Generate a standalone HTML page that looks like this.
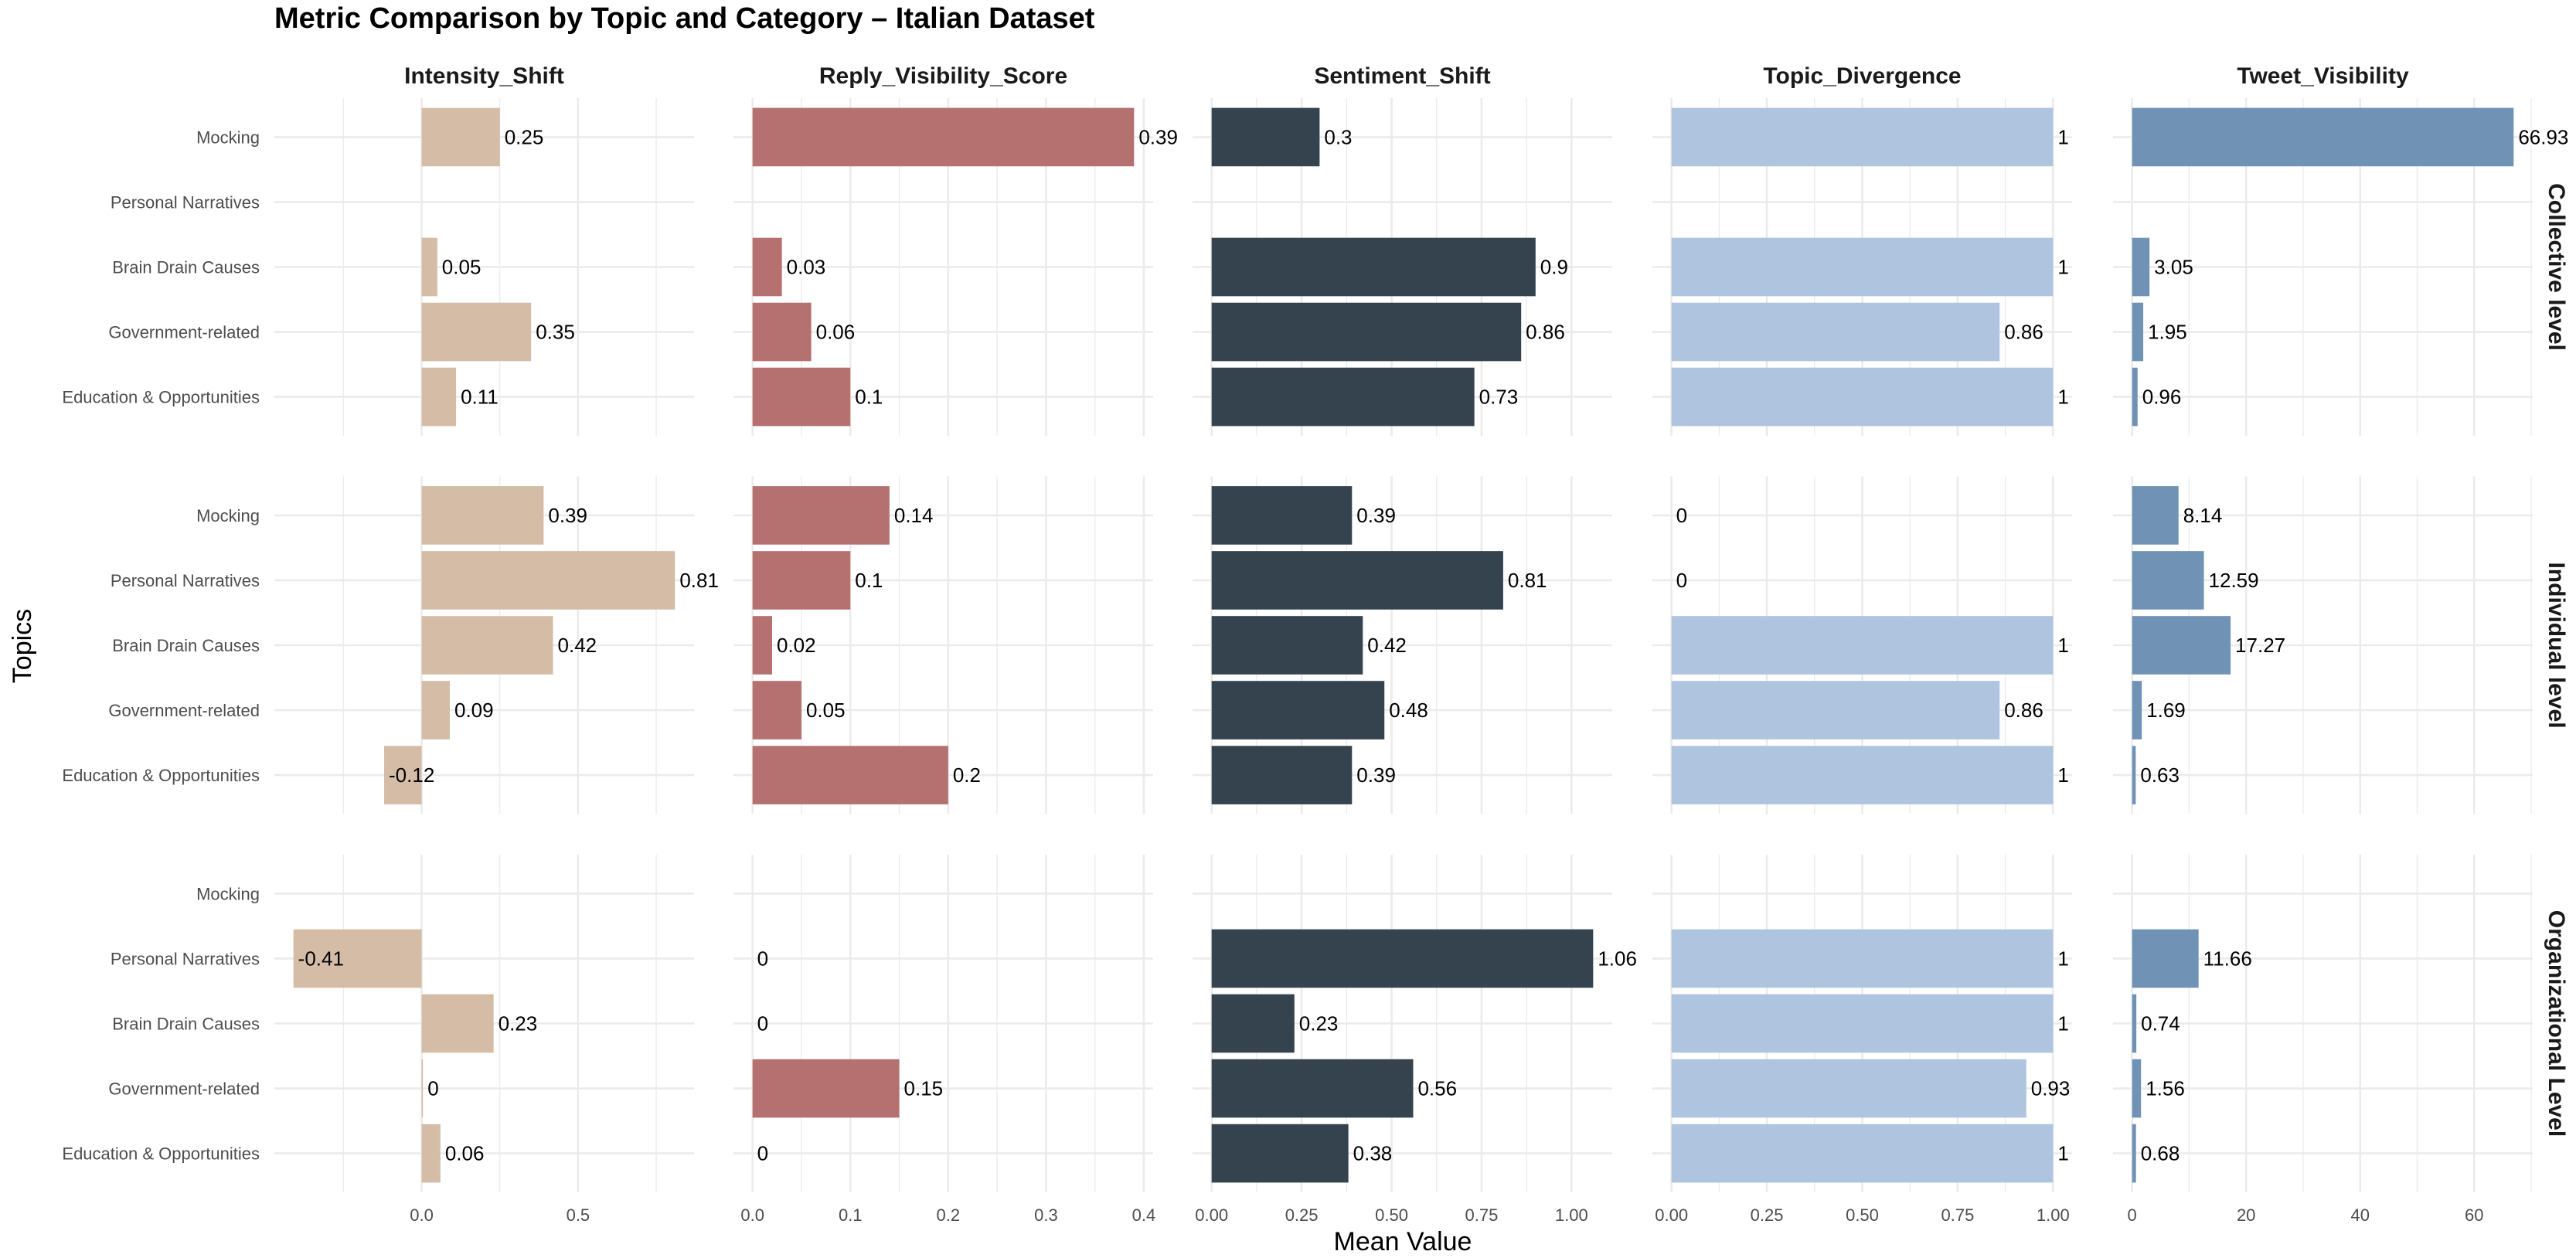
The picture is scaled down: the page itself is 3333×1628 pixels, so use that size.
<!DOCTYPE html>
<html><head><meta charset="utf-8">
<style>
html,body{margin:0;padding:0;background:#fff;}
svg{display:block;font-family:"Liberation Sans",Arial,sans-serif;}
</style></head>
<body>
<svg id="chart" width="3333" height="1628" viewBox="0 0 3333 1628">
<text x="355" y="36" font-size="38" font-weight="bold" fill="#000">Metric Comparison by Topic and Category – Italian Dataset</text>
<text x="1815" y="1618" font-size="34" text-anchor="middle" fill="#000">Mean Value</text>
<text transform="translate(40,836) rotate(-90)" font-size="34" text-anchor="middle" fill="#000">Topics</text>
</svg>
<script>
const topics = ["Mocking","Personal Narratives","Brain Drain Causes","Government-related","Education & Opportunities"];
const levels = ["Collective level","Individual level","Organizational Level"];
const metrics = ["Intensity_Shift","Reply_Visibility_Score","Sentiment_Shift","Topic_Divergence","Tweet_Visibility"];
const intensityValues = [[0.25,null,0.05,0.35,0.11],[0.39,0.81,0.42,0.09,-0.12],[null,-0.41,0.23,0.004,0.06]];
const replyValues = [[0.39,null,0.03,0.06,0.1],[0.14,0.1,0.02,0.05,0.2],[null,0,0,0.15,0]];
const sentimentValues = [[0.3,null,0.9,0.86,0.73],[0.39,0.81,0.42,0.48,0.39],[null,1.06,0.23,0.56,0.38]];
const topicValues = [[1,null,1,0.86,1],[0,0,1,0.86,1],[null,1,1,0.93,1]];
const tweetValues = [[66.93,null,3.05,1.95,0.96],[8.14,12.59,17.27,1.69,0.63],[null,11.66,0.74,1.56,0.68]];
const intensityTicks = [0,0.5];
const intensityTickLabels = ["0.0","0.5"];
const replyTicks = [0,0.1,0.2,0.3,0.4];
const replyTickLabels = ["0.0","0.1","0.2","0.3","0.4"];
const sentimentTicks = [0,0.25,0.5,0.75,1];
const sentimentTickLabels = ["0.00","0.25","0.50","0.75","1.00"];
const topicTicks = [0,0.25,0.5,0.75,1];
const topicTickLabels = ["0.00","0.25","0.50","0.75","1.00"];
const tweetTicks = [0,20,40,60];
const tweetTickLabels = ["0","20","40","60"];

const allValues = [intensityValues,replyValues,sentimentValues,topicValues,tweetValues];
const allTicks = [intensityTicks,replyTicks,sentimentTicks,topicTicks,tweetTicks];
const allTickLabels = [intensityTickLabels,replyTickLabels,sentimentTickLabels,topicTickLabels,tweetTickLabels];
const colors = ["#d5bca7","#b47170","#35434f","#afc4de","#7092b4"];
const panelLefts = [355,949,1543,2138,2734];
const panelW = 543;
const panelTops = [127,616.5,1106];
const panelH = 437;
const NS = "http://www.w3.org/2000/svg";
const svg = document.getElementById("chart");
function mk(tag, attrs, parent){
  const e = document.createElementNS(NS, tag);
  for (const k in attrs) e.setAttribute(k, attrs[k]);
  (parent||svg).appendChild(e);
  return e;
}
function yCenter(r, i){ return panelTops[r] + (i + 0.6) * (panelH / 5.2); }
const band = panelH / 5.2;
const barH = band * 0.9;

metrics.forEach((m, c) => {
  const vals = allValues[c];
  const flat = vals.flat().filter(v => v !== null);
  let lo = Math.min(0, ...flat), hi = Math.max(0, ...flat);
  const pad = (hi - lo) * 0.05; lo -= pad; hi += pad;
  const x0 = panelLefts[c];
  const xs = v => x0 + (v - lo) / (hi - lo) * panelW;
  const ticks = allTicks[c];
  const step = ticks[1] - ticks[0];
  const g = mk("g", {});
  
  
  const strip = mk("text", {x: x0 + panelW/2, y: 108, "font-size": 30, "font-weight": "bold", "text-anchor": "middle", fill: "#1a1a1a"}, g);
  strip.textContent = m;
  
  
  levels.forEach((lv, r) => {
    const pt = panelTops[r];
    const pg = mk("g", {}, g);
    
    
    for (let t = Math.ceil(lo / step * 2) * step / 2; t <= hi; t += step / 2) {
      const isMajor = Math.abs(t / step - Math.round(t / step)) < 1e-6;
      const x = xs(t);
      const gl = mk("line", {x1: x, x2: x, y1: pt, y2: pt + panelH, stroke: "#ebebeb", "stroke-width": isMajor ? 2.6 : 1.3}, pg);
      
      
    }
    topics.forEach((tp, i) => {
      const y = yCenter(r, i);
      const hl = mk("line", {x1: x0, x2: x0 + panelW, y1: y, y2: y, stroke: "#ebebeb", "stroke-width": 2.6}, pg);
      
      
      if (c === 0) {
        const tl = mk("text", {x: 336, y: y + 8, "font-size": 22, "text-anchor": "end", fill: "#4d4d4d"}, pg);
        tl.textContent = tp;
        
        
      }
    });
    topics.forEach((tp, i) => {
      const v = vals[r][i];
      if (v === null) return;
      const y = yCenter(r, i);
      const xa = xs(0), xb = xs(v);
      const b = mk("rect", {x: Math.min(xa, xb), y: y - barH/2, width: Math.abs(xb - xa), height: barH, fill: colors[c]}, pg);
      
      
      const lab = mk("text", {x: xb + 6, y: y + 9, "font-size": 26, fill: "#000"}, pg);
      lab.textContent = String(Math.round(v * 100) / 100);
      
      
    });
    if (c === 4) {
      const sl = mk("text", {transform: "translate(3298," + (pt + panelH/2) + ") rotate(90)", "font-size": 30, "font-weight": "bold", "text-anchor": "middle", fill: "#1a1a1a"}, pg);
      sl.textContent = lv;
      
      
    }
  });
  ticks.forEach((t, k) => {
    const tl = mk("text", {x: xs(t), y: 1580, "font-size": 22, "text-anchor": "middle", fill: "#4d4d4d"}, g);
    tl.textContent = allTickLabels[c][k];
    
    
  });
});
</script>
</body></html>
